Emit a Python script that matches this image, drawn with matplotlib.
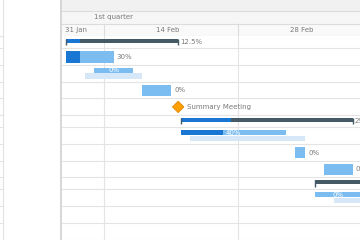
import matplotlib
matplotlib.use("Agg")
import matplotlib.pyplot as plt
import matplotlib.dates as mdates
from matplotlib.patches import Rectangle, Polygon

# ---------------- data ----------------
row_types = ["summary", "task", "task", "task", "milestone", "summary",
             "task", "task", "task", "summary", "task", "empty", "empty"]
starts = ["2025-02-10", "2025-02-10", "2025-02-13", "2025-02-18", "2025-02-21 18:00",
          "2025-02-22", "2025-02-22", "2025-03-06", "2025-03-09", "2025-03-08",
          "2025-03-08", None, None]
ends = ["2025-02-21 18:00", "2025-02-15", "2025-02-17", "2025-02-21", None,
        "2025-03-12", "2025-03-05", "2025-03-07", "2025-03-12", "2025-03-13",
        "2025-03-13", None, None]
progress = [12.5, 30, 0, 0, None, 29, 40, 0, 0, 4, 0, None, None]
baseline_starts = [None, None, "2025-02-12", None, None, None, "2025-02-23",
                   None, None, None, "2025-03-10", None, None]
baseline_ends = [None, None, "2025-02-18", None, None, None, "2025-03-07",
                 None, None, None, "2025-03-16", None, None]
milestone_names = [None, None, None, None, "Summary Meeting", None, None,
                   None, None, None, None, None, None]
date_ticks = ["2025-01-31", "2025-02-14", "2025-02-28"]
date_tick_labels = ["31 Jan", "14 Feb", "28 Feb"]
quarter_label = "1st quarter"
quarter_start, quarter_end = "2025-01-01", "2025-03-31"

# ---------------- style ----------------
W, H = 360, 240
LEFT_W = 62
HEAD_H = 36
PX_PER_DAY = 134 / 14.0
C_SUM = "#455a64"
C_PROG = "#1976d2"
C_TASK = "#7cbdf1"
C_BASE = "#d6e8f8"
C_MS = "#ffa000"
C_GRID = "#e4e4e4"
C_TEXT = "#7a7a7a"
FS = 5.0

d0 = mdates.datestr2num("2025-02-14")
x_left = d0 - (104 - LEFT_W) / PX_PER_DAY
x_right = x_left + (W - LEFT_W) / PX_PER_DAY

fig = plt.figure(figsize=(W / 100, H / 100), dpi=100)
fig.patch.set_facecolor("white")

# row geometry (pixels)
heights = [12 if t == "summary" else 16.75 for t in row_types]
tops = []
acc = 0.0
for h in heights:
    tops.append(acc)
    acc += h
body_h = H - HEAD_H

# ---------------- left panel ----------------
axl = fig.add_axes([0, 0, LEFT_W / W, 1])
axl.set_xlim(0, LEFT_W)
axl.set_ylim(H, 0)
axl.axis("off")
axl.plot([2.5, 2.5], [0, H], color="#e2e2e2", lw=0.8)
axl.plot([LEFT_W - 1, LEFT_W - 1], [0, H], color="#cfcfcf", lw=1.2)
for t, h in zip(tops, heights):
    axl.plot([0, 2.5], [HEAD_H + t, HEAD_H + t], color="#e2e2e2", lw=0.8)
axl.plot([0, 2.5], [HEAD_H + acc, HEAD_H + acc], color="#e2e2e2", lw=0.8)

# ---------------- header ----------------
axh = fig.add_axes([LEFT_W / W, body_h / H, (W - LEFT_W) / W, HEAD_H / H])
axh.set_xlim(x_left, x_right)
axh.set_ylim(HEAD_H, 0)
axh.axis("off")
axh.add_patch(Rectangle((x_left, 0), x_right - x_left, 11, color="#f1f1f1", lw=0))
axh.add_patch(Rectangle((x_left, 11), x_right - x_left, 13, color="#f6f6f6", lw=0))
axh.add_patch(Rectangle((x_left, 24), x_right - x_left, 12, color="#f9f9f9", lw=0))
for yy in (11, 24, 35.6):
    axh.plot([x_left, x_right], [yy, yy], color="#dcdcdc", lw=0.8)
qs, qe = mdates.datestr2num(quarter_start), mdates.datestr2num(quarter_end)
axh.text((qs + qe) / 2 + 0.5, 17.5, quarter_label, ha="center", va="center",
         fontsize=FS, color=C_TEXT)
tick_nums = [mdates.datestr2num(d) for d in date_ticks]
for i, (tn, lab) in enumerate(zip(tick_nums, date_tick_labels)):
    if tn > x_left:
        axh.plot([tn, tn], [24, 36], color="#dcdcdc", lw=0.8)
    nxt = tn + 14
    center = (tn + nxt) / 2
    if center - 2 < x_left:
        axh.text(x_left + 3 / PX_PER_DAY, 30, lab, ha="left", va="center",
                 fontsize=FS, color=C_TEXT)
    else:
        axh.text(center - 0.3, 30, lab, ha="center", va="center", fontsize=FS, color=C_TEXT)

# ---------------- body ----------------
ax = fig.add_axes([LEFT_W / W, 0, (W - LEFT_W) / W, body_h / H])
ax.set_xlim(x_left, x_right)
ax.set_ylim(body_h, 0)
ax.axis("off")

for tn in tick_nums:
    if tn > x_left:
        ax.plot([tn, tn], [0, body_h], color=C_GRID, lw=0.8, zorder=0)
for t, h in zip(tops, heights):
    ax.plot([x_left, x_right], [t + h, t + h], color=C_GRID, lw=0.8, zorder=0)

off = 3 * 0.72  # 3 px in points
for i, rt in enumerate(row_types):
    top = tops[i]
    if rt == "empty":
        continue
    if rt == "milestone":
        m = mdates.datestr2num(starts[i])
        yc = top + heights[i] / 2 + 0.3
        hx = 5.7 / PX_PER_DAY
        hy = 5.7
        ax.add_patch(Polygon([(m - hx, yc), (m, yc - hy), (m + hx, yc), (m, yc + hy)],
                             closed=True, facecolor=C_MS, edgecolor="#e08600",
                             lw=0.6, zorder=3))
        ax.annotate(milestone_names[i], xy=(m + hx, yc), xytext=(off, 0),
                    textcoords="offset points", ha="left", va="center",
                    fontsize=FS, color=C_TEXT)
        continue
    s = mdates.datestr2num(starts[i])
    e = mdates.datestr2num(ends[i])
    p = progress[i] / 100.0
    lab = (f"{progress[i]:g}%")
    if rt == "summary":
        y0, hh = top + 3.0, 4.2
        ax.barh(y0 + hh / 2, e - s, left=s, height=hh, color=C_SUM, lw=0, zorder=2)
        ax.barh(y0 + hh / 2, (e - s) * p, left=s, height=hh, color=C_PROG, lw=0, zorder=3)
        for xx in (s, e):
            ax.plot([xx, xx], [y0, y0 + hh + 2.2], color=C_SUM, lw=1.0,
                    solid_capstyle="butt", zorder=3)
        ax.annotate(lab, xy=(e, y0 + hh / 2), xytext=(off * 0.7, -0.5),
                    textcoords="offset points", ha="left", va="center",
                    fontsize=FS, color=C_TEXT)
    elif baseline_starts[i] is not None:
        bs = mdates.datestr2num(baseline_starts[i])
        be = mdates.datestr2num(baseline_ends[i])
        y0, hh = top + 2.8, 5.3
        ax.barh(y0 + hh / 2, e - s, left=s, height=hh, color=C_TASK, lw=0, zorder=2)
        if p > 0:
            ax.barh(y0 + hh / 2, (e - s) * p, left=s, height=hh, color=C_PROG,
                    lw=0, zorder=3)
        by0, bh = top + 8.5, 5.5
        ax.barh(by0 + bh / 2, be - bs, left=bs, height=bh, color=C_BASE, lw=0, zorder=2)
        ax.text((s + e) / 2, y0 + hh / 2 + 0.2, lab, ha="center", va="center",
                fontsize=FS, color="white", zorder=4)
    else:
        y0, hh = top + 3.2, 11.5
        ax.barh(y0 + hh / 2, e - s, left=s, height=hh, color=C_TASK, lw=0, zorder=2)
        if p > 0:
            ax.barh(y0 + hh / 2, (e - s) * p, left=s, height=hh, color=C_PROG,
                    lw=0, zorder=3)
        ax.annotate(lab, xy=(e, y0 + hh / 2), xytext=(off, 0),
                    textcoords="offset points", ha="left", va="center",
                    fontsize=FS, color=C_TEXT)

fig.savefig("out.png", dpi=100, facecolor="white")
